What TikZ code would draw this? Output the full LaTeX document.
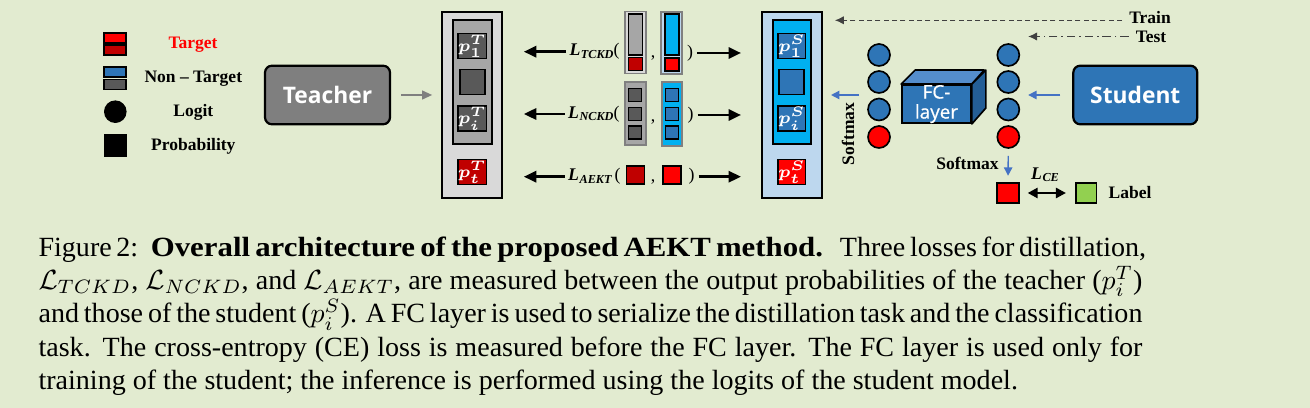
\documentclass[tikz,border=0pt]{standalone}
\usepackage{fontspec}
\setmainfont{Liberation Serif}
\newfontfamily\sansfc{Open Sans}
\usepackage{bm}
\usepackage{xcolor}
\usetikzlibrary{arrows.meta}

\definecolor{bgpage}{RGB}{226,235,208}
\definecolor{tgray}{RGB}{127,127,127}
\definecolor{lgray}{RGB}{217,217,217}
\definecolor{mgray}{RGB}{166,166,166}
\definecolor{dgray}{RGB}{89,89,89}
\definecolor{sblue}{RGB}{46,117,182}
\definecolor{lblue}{RGB}{189,215,238}
\definecolor{cyanb}{RGB}{0,176,240}
\definecolor{dred}{RGB}{192,0,0}
\definecolor{bred}{RGB}{255,0,0}
\definecolor{lgreen}{RGB}{146,208,80}
\definecolor{arrblue}{RGB}{68,114,196}
\definecolor{fctop}{RGB}{84,141,204}
\definecolor{fcside}{RGB}{36,94,150}

\newcommand{\pxu}{0.36pt}
\newcommand{\lblfont}{\fontsize{6.3}{7}\selectfont\bfseries}
% loss symbol: bold italic L with a subscript on the baseline
\newcommand{\lossL}[1]{{\bfseries\itshape L\kern0.2pt\raisebox{-0.3ex}{\fontsize{4.4}{5}\selectfont #1}}}
% one full caption line
\newcommand{\capline}[1]{\makebox[397.4pt][s]{#1}}

\begin{document}
\begin{tikzpicture}[x=\pxu, y=-\pxu,
    lbl/.style={inner sep=0.8pt, font=\lblfont},
    model/.style={rectangle, draw, rounded corners=2.5pt, line width=0.8pt,
      text=white, font=\sansfc\bfseries\fontsize{8.2}{9}\selectfont},
    outbox/.style={rectangle, draw, line width=0.7pt, inner sep=0pt},
    cell/.style={rectangle, draw, line width=0.6pt, inner sep=0pt,
      minimum width=25*\pxu, minimum height=25*\pxu, text=white,
      font=\fontsize{6.5}{7}\selectfont},
    tiny/.style={rectangle, draw, line width=0.5pt, inner sep=0pt},
    bar/.style={rectangle, draw=gray, line width=0.6pt, inner sep=0pt},
    legbar/.style={rectangle, draw, line width=0.6pt, inner sep=0pt,
      minimum width=22*\pxu, minimum height=10*\pxu},
    logit/.style={circle, draw, line width=0.6pt, inner sep=0pt,
      minimum size=22*\pxu},
    losstxt/.style={inner sep=0pt, font=\fontsize{6.4}{7}\selectfont},
    bigarrow/.style={-{Triangle[length=4.5pt,width=4pt]}, line width=1pt},
    bluearr/.style={-{Triangle[length=3pt,width=3pt]}, arrblue, line width=0.5pt}
  ]
  \path[use as bounding box, fill=bgpage] (0,0) rectangle (1310,408);

  % Legend
  \node (legT1) [legbar, fill=bred] at (115.3,37.7) {};
  \node (legT2) [legbar, fill=dred] at (115.3,50.3) {};
  \node (legN1) [legbar, fill=sblue] at (115.3,72) {};
  \node (legN2) [legbar, fill=dgray] at (115.3,84.5) {};
  \node (legC) [circle, fill=black, inner sep=0pt, minimum size=22.6*\pxu]
  at (115.3,111.7) {};
  \node (legP) [rectangle, fill=black, inner sep=0pt, minimum size=23*\pxu]
  at (115.5,146) {};
  \node (txtT) [lbl, text=bred] at (193,45) {Target};
  \node (txtN) [lbl] at (193.3,79) {Non -- Target};
  \node (txtL) [lbl] at (193.3,112) {Logit};
  \node (txtP) [lbl] at (193.3,146) {Probability};

  % Teacher side
  \node (teacher) [model, fill=tgray, minimum width=125*\pxu,
    minimum height=58.6*\pxu] at (327.5,95) {Teacher};
  \node (tOut) [outbox, fill=lgray, minimum width=60*\pxu,
    minimum height=186*\pxu] at (472,105) {};
  \node (tIn) [outbox, fill=mgray, minimum width=39*\pxu,
    minimum height=124*\pxu] at (472.2,82) {};
  \node (t1) [cell, fill=dgray] at (472.2,46) {$\bm{p_1^T}$};
  \node (t2) [cell, fill=dgray] at (472.2,82) {};
  \node (t3) [cell, fill=dgray] at (472.2,118.5) {$\bm{p_i^T}$};
  \node (t4) [cell, fill=dred] at (472.2,172) {$\bm{p_t^T}$};

  % Student side
  \node (sOut) [outbox, fill=lblue, minimum width=60*\pxu,
    minimum height=186*\pxu] at (792,105) {};
  \node (sIn) [outbox, fill=cyanb, minimum width=38*\pxu,
    minimum height=124*\pxu] at (792,82) {};
  \node (s1) [cell, fill=sblue] at (791.8,46) {$\bm{p_1^S}$};
  \node (s2) [cell, fill=sblue] at (791.8,82) {};
  \node (s3) [cell, fill=sblue] at (791.8,118.5) {$\bm{p_i^S}$};
  \node (s4) [cell, fill=bred] at (791.8,172) {$\bm{p_t^S}$};

  % Losses
  \node (lT) [losstxt, anchor=east] at (620,51.7) {\lossL{TCKD}(};
  \node (lN) [losstxt, anchor=east] at (620,114) {\lossL{NCKD}(};
  \node (lA) [losstxt, anchor=east] at (621,176.7) {\lossL{AEKT}\,(};
  \node (tbT) [bar, fill=lgray, minimum width=21*\pxu,
    minimum height=62*\pxu] at (635.5,42.5) {};
  \node (tbTa) [tiny, fill=mgray, minimum width=13.5*\pxu,
    minimum height=41*\pxu] at (635.5,34.5) {};
  \node (tbTb) [tiny, fill=dred, minimum width=13.5*\pxu,
    minimum height=13*\pxu] at (635.5,64.3) {};
  \node (sbT) [bar, fill=lblue, minimum width=21*\pxu,
    minimum height=62*\pxu] at (671.5,43) {};
  \node (sbTa) [tiny, fill=cyanb, minimum width=14*\pxu,
    minimum height=41*\pxu] at (672,34.5) {};
  \node (sbTb) [tiny, fill=bred, minimum width=14*\pxu,
    minimum height=13*\pxu] at (672,64.5) {};
  \node (tbN) [bar, fill=mgray, minimum width=21*\pxu,
    minimum height=63*\pxu] at (635.5,113.5) {};
  \node (tbN1) [tiny, fill=dgray, minimum size=13*\pxu] at (635,95.3) {};
  \node (tbN2) [tiny, fill=dgray, minimum size=13*\pxu] at (635,114) {};
  \node (tbN3) [tiny, fill=dgray, minimum size=13*\pxu] at (635,132.5) {};
  \node (sbN) [bar, fill=cyanb, minimum width=20*\pxu,
    minimum height=64*\pxu] at (672,114) {};
  \node (sbN1) [tiny, fill=sblue, minimum size=13*\pxu] at (672,95.3) {};
  \node (sbN2) [tiny, fill=sblue, minimum size=13*\pxu] at (672,114) {};
  \node (sbN3) [tiny, fill=sblue, minimum size=13*\pxu] at (672,132.5) {};
  \node (aT) [tiny, fill=dred, minimum size=18*\pxu] at (635.2,175) {};
  \node (aS) [tiny, fill=bred, minimum size=18*\pxu] at (671.8,175) {};
  \node (cT) [losstxt] at (653,58) {,};
  \node (cN) [losstxt] at (653,121.5) {,};
  \node (cA) [losstxt] at (653,181.5) {,};
  \node (rT) [losstxt] at (690,53) {)};
  \node (rN) [losstxt] at (690.7,115) {)};
  \node (rA) [losstxt] at (691.7,176.7) {)};

  % Student, logits and FC layer
  \node (student) [model, fill=sblue, minimum width=124*\pxu,
    minimum height=58.6*\pxu] at (1135.3,95) {Student};
  \node (lc1) [logit, fill=sblue] at (879,55) {};
  \node (lc2) [logit, fill=sblue] at (879,82) {};
  \node (lc3) [logit, fill=sblue] at (879,109.5) {};
  \node (lc4) [logit, fill=bred] at (879,137) {};
  \node (rc1) [logit, fill=sblue] at (1008.3,55) {};
  \node (rc2) [logit, fill=sblue] at (1008.3,82) {};
  \node (rc3) [logit, fill=sblue] at (1008.3,109.5) {};
  \node (rc4) [logit, fill=bred] at (1008.3,137) {};
  \node (fc) [rectangle, draw, line width=0.6pt, fill=sblue, inner sep=0pt,
    minimum width=69*\pxu, minimum height=38*\pxu, text=white, align=center,
    font=\sansfc\fontsize{6.8}{7.2}\selectfont\addfontfeature{FakeBold=0.6}]
  at (936.5,104) {FC-\\layer};
  \draw[fill=fctop, line width=0.6pt, line join=round] (fc.north west)
  -- ++(14,-14) -- ++(69,0) -- (fc.north east) -- cycle;
  \draw[fill=fcside, line width=0.6pt, line join=round] (fc.north east)
  -- ++(14,-14) -- ++(0,38) -- (fc.south east) -- cycle;
  \node (outS) [rectangle, draw, line width=0.6pt, fill=bred, inner sep=0pt,
    minimum width=22.6*\pxu, minimum height=20.6*\pxu] at (1008,193) {};
  \node (lab) [rectangle, draw, line width=0.6pt, fill=lgreen, inner sep=0pt,
    minimum width=20.7*\pxu, minimum height=20.6*\pxu] at (1086.3,193) {};
  \node (labtxt) [lbl] at (1130,193) {Label};
  \node (lce) [losstxt] at (1045,175) {\lossL{CE}};
  \node (smV) [lbl, rotate=90] at (848,134) {Softmax};
  \node (smH) [lbl] at (967.5,163) {Softmax};
  \node (train) [lbl] at (1150,17.5) {Train};
  \node (test) [lbl] at (1151,36.5) {Test};

  % Links
  \draw [-{Triangle[length=3.6pt,width=3.2pt]}, tgray, line width=0.5pt,
    shorten <=3.6pt, shorten >=3.2pt] (teacher.east) -- (teacher.east -| tOut.west);
  \draw [bigarrow, shorten <=1pt, shorten >=7.5pt] (lT.west) -- (lT.west -| tOut.east);
  \draw [bigarrow, shorten <=1pt, shorten >=7.5pt] (lN.west) -- (lN.west -| tOut.east);
  \draw [bigarrow, shorten <=1pt, shorten >=7.5pt] (lA.west) -- (lA.west -| tOut.east);
  \draw [bigarrow, shorten <=1.2pt, shorten >=7.2pt] (rT.east)
  -- (rT.east -| sOut.west);
  \draw [bigarrow, shorten <=1.2pt, shorten >=7.2pt] (rN.east)
  -- (rN.east -| sOut.west);
  \draw [bigarrow, shorten <=1.2pt, shorten >=7.2pt] (rA.east)
  -- (rA.east -| sOut.west);
  \draw [-{Latex[length=3.2pt,width=3pt]}, black!75, line width=0.4pt,
    dash pattern=on 1.8pt off 1.2pt, shorten <=1.6pt, shorten >=4.3pt]
  ([yshift=-1pt]train.west) -- ([yshift=-1pt]train.west -| sOut.east);
  \draw [-{Latex[length=3.2pt,width=3pt]}, black!75, line width=0.4pt,
    dash pattern=on 3pt off 1.4pt on 0.6pt off 1.4pt, shorten <=1.6pt,
    shorten >=2.9pt] (test.west) -- (test.west -| rc1.east);
  \draw [bluearr, shorten <=4.3pt, shorten >=2.9pt] (student.west)
  -- (student.west -| rc1.east);
  \draw [bluearr, shorten <=2.9pt, shorten >=2.9pt] (lc1.west |- student.west)
  -- (sOut.east |- student.west);
  \draw [bluearr, shorten <=2.5pt, shorten >=2.2pt] (rc4.south) -- (outS.north);
  \draw [{Triangle[length=3.6pt,width=3.6pt]}-{Triangle[length=3.6pt,width=3.6pt]},
    line width=0.9pt, shorten <=2.7pt, shorten >=3.3pt] (outS.east) -- (lab.west);

  % Caption
  \node (cap) [anchor=north west, inner sep=0pt, align=left,
    font=\fontsize{10}{12}\selectfont\addfontfeature{FakeStretch=1.01}]
  at (38,236)
  {\capline{Figure 2:\hspace{0.45em}{\bfseries\addfontfeature{FakeStretch=1.11}Overall
        architecture of the proposed AEKT method.}\hspace{0.3em} Three losses for
      distillation,}\\
    \capline{$\mathcal{L}_{TCKD}$, $\mathcal{L}_{NCKD}$, and $\mathcal{L}_{AEKT}$, are
      measured between the output probabilities of the teacher ($p_i^T$)}\\
    \capline{and those of the student ($p_i^S$). A FC layer is used to serialize
      the distillation task and the classification}\\
    \capline{task. The cross-entropy (CE) loss is measured before the FC layer.
      The FC layer is used only for}\\
    training of the student; the inference is performed using the logits of
    the student model.};
\end{tikzpicture}
\end{document}
